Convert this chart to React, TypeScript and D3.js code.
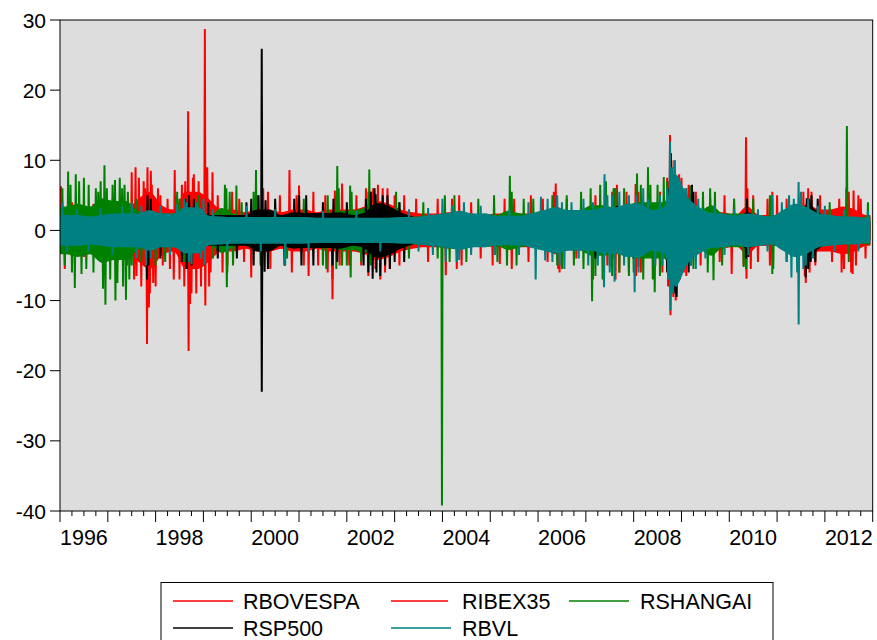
import React from "react";
import * as d3 from "d3";

// ---------- data ----------
// Quarterly dense-band amplitude of daily returns, 1996Q1 .. 2012Q4
const quarterLabels: string[] = d3.range(1996, 2013).flatMap((yr) => [1, 2, 3, 4].map((q) => `${yr}Q${q}`));

const coreRBOVESPA = [
  2.4, 2, 2, 2, 2, 2.8, 4.4, 5.5, 3.6, 3, 5.5, 5.5, 4.4, 3, 3, 2.6,
  3, 3, 2.6, 3, 3, 2.6, 3, 3, 3, 3.4, 4.2, 3.8, 3, 2.6, 2.4, 2.4,
  2.6, 2.6, 2.4, 2.2, 2.4, 2.4, 2.4, 2.4, 2.6, 3.4, 2.6, 2.6, 3, 2.6, 3.4, 3.4,
  3.8, 3, 3.8, 6.8, 4.2, 3, 2.6, 2.6, 2.2, 2.6, 2.2, 2.2, 2.2, 2.2, 3, 2.6,
  2.2, 2.2, 2.2, 2,
];
const coreRIBEX35 = [
  1.2, 1.2, 1.2, 1.4, 1.6, 2, 2.4, 2.8, 2.4, 2.4, 3.2, 3.2, 2, 2, 2, 2,
  2.4, 2.4, 2, 2.4, 2, 2, 2.8, 2.4, 2.4, 2.8, 3.6, 3.2, 2.8, 2, 1.6, 1.6,
  1.2, 1.2, 1.2, 1.2, 1.2, 1.2, 1.2, 1.2, 1.4, 1.6, 1.2, 1.2, 1.4, 1.4, 2, 2,
  2.8, 2, 2.8, 5.6, 3.2, 2.4, 2, 1.6, 2, 3.4, 2.2, 2.2, 2.2, 2.2, 3.8, 3,
  3, 3.4, 3, 2.2,
];
const coreRSHANGAI = [
  3.4, 3.8, 3.4, 4.6, 4.2, 4.2, 2.8, 2.4, 2.4, 2.4, 2.4, 2.4, 2, 3.2, 2.4, 2,
  2.4, 2.4, 2, 2, 2, 2, 2.4, 2.8, 2.8, 3.2, 2.4, 2, 2, 2, 2, 2,
  2.4, 2.4, 2, 2.4, 2.2, 2.8, 2.4, 2.2, 2, 2.8, 2.4, 2.8, 3.6, 3.6, 3.2, 3.6,
  4, 4, 4, 4.4, 3.6, 2.8, 3.6, 2.4, 2.4, 2.4, 2, 2, 2.4, 2, 2.4, 2.4,
  2, 2, 1.6, 2,
];
const coreRSP500 = [
  1.3, 1.1, 1.3, 1.5, 1.7, 1.7, 1.7, 2.5, 1.7, 1.7, 3, 2.5, 2.2, 2.2, 2.2, 2.2,
  3, 3, 2.2, 2.6, 2.5, 2.5, 2.5, 2.6, 2.2, 2.6, 3.9, 3.5, 2.6, 2, 1.3, 1.1,
  1, 1, 1, 1, 1, 1, 1, 1, 1, 1.3, 1, 0.9, 1.3, 1.3, 2.1, 2.1,
  2.5, 2.1, 3, 6.3, 3.9, 2.5, 1.7, 1.7, 1.5, 2.6, 1.8, 1.6, 1.4, 1.4, 3.6, 2.6,
  1.3, 1.3, 1.3, 1.3,
];
const coreRBVL = [
  2.2, 2.2, 2, 2.2, 2.4, 2.4, 2.4, 2.9, 2.4, 2.4, 3.3, 3.3, 2.1, 2, 1.9, 1.9,
  1.9, 1.9, 1.9, 1.9, 1.9, 1.8, 1.8, 1.8, 1.8, 1.8, 1.8, 1.8, 1.9, 1.9, 2.1, 2.3,
  2.5, 2.8, 2.4, 2.4, 2.1, 2.1, 2.1, 2.5, 2.9, 3.3, 2.9, 2.9, 2.9, 3.3, 3.3, 3.8,
  3.8, 2.9, 3.3, 8, 4.8, 3.3, 2.5, 2.4, 2.1, 2.4, 2.2, 2, 2.9, 3.8, 3.3, 2.4,
  2.2, 2, 2, 1.8,
];

// Individual large daily moves: [decimal year, return]
const spikesRBOVESPA: [number, number][] = [
  [1996.02, 6.3], [1996.1, -5.5], [1996.25, 4], [1996.5, -3.8], [1996.7, 3.8], [1996.9, -4],
  [1997.1, 4.5], [1997.2, -4.5], [1997.3, 5], [1997.4, -5], [1997.5, 8.3], [1997.55, -7],
  [1997.58, 9.0], [1997.6, -6.5], [1997.65, 7.5], [1997.7, -8], [1997.75, 7], [1997.78, 6],
  [1997.82, -16.2], [1997.83, 9], [1997.86, -11], [1997.88, -9], [1997.9, 8.5], [1997.92, 6.5],
  [1997.95, -7.5], [1998.0, -8], [1998.05, 6], [1998.1, 5], [1998.15, -5], [1998.25, 4.5],
  [1998.3, -5.5], [1998.38, -7], [1998.4, 8.6], [1998.5, -7], [1998.55, 6.5], [1998.6, -8],
  [1998.62, 7], [1998.68, 17], [1998.69, -17.2], [1998.72, -10.5], [1998.75, -9], [1998.78, 7.5],
  [1998.8, 8], [1998.85, -9], [1998.9, 7], [1998.95, -8], [1999.03, 28.7], [1999.04, -10.7],
  [1999.06, 7], [1999.08, 9], [1999.12, -8], [1999.15, -6], [1999.19, 8.3], [1999.3, 5],
  [1999.4, -6], [1999.5, -5], [1999.6, 5.5], [1999.75, 4.5], [1999.85, -4.5], [2000.0, -6.7],
  [2000.1, 5], [2000.2, -5], [2000.25, 6], [2000.35, 5.5], [2000.4, -5.5], [2000.6, 5],
  [2000.7, -5], [2000.8, 8.6], [2000.85, -6], [2000.95, 5], [2001.0, 6.4], [2001.1, -5],
  [2001.2, -6.5], [2001.3, 5.5], [2001.4, -5], [2001.55, 5], [2001.6, -6], [2001.7, -9.8],
  [2001.75, 5.7], [2001.85, -5], [2001.9, 6.7], [2002.05, -5], [2002.2, 5], [2002.3, -5],
  [2002.4, 6], [2002.45, -6.5], [2002.5, 5.5], [2002.6, -5.5], [2002.65, 6.5], [2002.7, -7],
  [2002.75, 6], [2002.8, -6], [2002.85, 6], [2002.9, -5.5], [2003.0, 5], [2003.1, -5],
  [2003.2, 5], [2003.45, 4.5], [2003.7, -4.5], [2003.9, 4.5], [2004.07, -6.4], [2004.2, 4.5],
  [2004.3, -5.5], [2004.35, 5], [2004.4, -5], [2004.6, 4], [2004.8, -4], [2005.05, -5],
  [2005.2, -4.8], [2005.3, 4.5], [2005.45, -5.5], [2005.5, 4.5], [2005.8, -4.5], [2005.85, 5],
  [2006.1, 4.5], [2006.2, -4.5], [2006.33, 5.5], [2006.37, 6.7], [2006.42, -5.5], [2006.45, -6],
  [2006.6, 4.5], [2006.8, -4], [2007.15, -7], [2007.2, 5], [2007.45, -5], [2007.55, 5.5],
  [2007.6, 6], [2007.62, -7], [2007.65, 6.5], [2007.7, -6], [2007.85, 5.5], [2007.9, -6],
  [2008.04, 6.6], [2008.05, -6.5], [2008.1, 5.5], [2008.15, -6], [2008.3, 5], [2008.45, -5],
  [2008.55, 5.5], [2008.6, -6], [2008.7, 7.5], [2008.72, -8], [2008.76, 13.6], [2008.77, -12.1],
  [2008.8, 9], [2008.82, -9], [2008.86, 10], [2008.88, -10], [2008.9, 7], [2008.95, 8],
  [2008.97, -7], [2009.0, 7.5], [2009.05, -6], [2009.1, -6.5], [2009.15, 6.5], [2009.2, 6],
  [2009.3, 5.5], [2009.4, -5], [2009.6, 4.5], [2009.8, -4.5], [2009.9, 5],
];
const spikesRIBEX35: [number, number][] = [
  [1998.7, -9], [2001.7, -7], [2002.55, 6], [2008.74, 7], [2008.76, -8], [2008.79, 10],
  [2008.83, -9.5], [2010.05, -6.2], [2010.1, 4.5], [2010.3, -5], [2010.35, 13.3], [2010.36, -6.9],
  [2010.38, 6], [2010.45, -5.5], [2010.5, 5], [2010.6, -4.5], [2010.8, 4.5], [2010.85, -5],
  [2010.9, 5.5], [2011.0, 5], [2011.2, 4.5], [2011.55, 5.5], [2011.58, -6.5], [2011.6, -7.5],
  [2011.65, 6], [2011.68, -6], [2011.72, 5.5], [2011.8, -5], [2011.9, 5], [2012.15, -4.5],
  [2012.3, 4.5], [2012.35, -6], [2012.4, -5.5], [2012.45, 6], [2012.5, 5.5], [2012.55, -6],
  [2012.58, -6.2], [2012.6, 5.7], [2012.65, -5], [2012.7, 5], [2012.75, 4.5], [2012.85, -4],
];
const spikesRSHANGAI: [number, number][] = [
  [1996.05, 6], [1996.1, -5], [1996.17, 8.4], [1996.22, 6.5], [1996.25, -6], [1996.31, -8.2],
  [1996.33, 8], [1996.4, 7], [1996.45, -6.2], [1996.5, 7.5], [1996.55, -5.5], [1996.6, 6.5],
  [1996.7, -6], [1996.75, 6], [1996.8, 5.5], [1996.85, 7], [1996.9, -8.3], [1996.93, 9.3],
  [1996.95, -10.6], [1996.98, 6], [1997.05, -7], [1997.1, 6.5], [1997.15, 7.2], [1997.16, -10],
  [1997.2, -7.5], [1997.25, 7.5], [1997.3, 6], [1997.32, -8], [1997.35, 6.5], [1997.38, -9.9],
  [1997.42, 5.5], [1997.45, -7], [1997.5, -5], [1997.6, 4.5], [1997.7, -4.5], [1997.9, 4.5],
  [1998.0, -5], [1998.2, -4.5], [1998.45, 5.5], [1998.5, 4.5], [1998.6, -4.5], [1998.9, 5],
  [1999.2, -4], [1999.45, 6.5], [1999.48, 6], [1999.49, -8.1], [1999.5, -6], [1999.55, 5.5],
  [1999.62, -5], [1999.69, 6.4], [1999.8, 4], [2000.05, 5.5], [2000.1, 8.6], [2000.15, 5],
  [2000.2, -5], [2000.5, 4], [2000.75, -4], [2001.1, 4.5], [2001.5, -5], [2001.57, -5.5],
  [2001.6, 5], [2001.78, -5.5], [2001.8, 9.2], [2001.83, 6], [2001.9, -5], [2002.0, -5],
  [2002.07, 6.4], [2002.08, -6.7], [2002.1, 5.5], [2002.3, -4.5], [2002.45, 5.5], [2002.47, 8.7],
  [2002.5, -5], [2002.6, 5], [2002.9, -4], [2003.03, 5.5], [2003.1, 4], [2003.3, -4],
  [2003.6, 4], [2003.9, -4], [2003.99, -39.2], [2004.05, 5], [2004.15, -4.5], [2004.25, 5],
  [2004.5, -4.5], [2004.75, 4.5], [2005.08, 5], [2005.15, -4.5], [2005.35, -5], [2005.41, 7.8],
  [2005.45, 5.5], [2005.55, -5], [2005.7, 4.5], [2005.9, 4.5], [2006.3, 5], [2006.4, -5],
  [2006.5, -5.5], [2006.6, 5], [2006.75, -5], [2006.9, 5.5], [2006.95, -5.5], [2007.1, 6],
  [2007.13, -10.1], [2007.2, -6.5], [2007.3, 6.5], [2007.35, -7], [2007.42, 7], [2007.5, -5],
  [2007.55, -6.5], [2007.58, 6], [2007.62, 6], [2007.7, -6], [2007.8, 6], [2007.9, -6.5],
  [2008.0, -6], [2008.07, 8.1], [2008.1, -5.2], [2008.15, 6.5], [2008.2, -7], [2008.3, 9],
  [2008.35, 6.5], [2008.4, -7], [2008.44, -8.8], [2008.5, 6.5], [2008.55, -6.5], [2008.63, 7.6],
  [2008.7, 7], [2008.8, -7], [2008.9, 7.5], [2008.95, -6], [2009.1, 6], [2009.18, 6.4],
  [2009.25, -5.5], [2009.45, 5.5], [2009.55, -6], [2009.6, 6], [2009.67, -7.1], [2009.7, 5.5],
  [2009.85, -5], [2010.1, 4.5], [2010.3, -5.2], [2010.35, -5.5], [2010.5, 4.5], [2010.85, 5],
  [2010.9, -6.2], [2010.92, -5.5], [2011.2, -4.5], [2011.5, 4], [2011.7, -4.5], [2012.1, 4],
  [2012.46, 14.9], [2012.5, -4.5], [2012.9, 4],
];
const spikesRSP500: [number, number][] = [
  [1997.82, -7], [1997.83, 5], [1997.85, -5], [1997.9, 4.5], [1998.1, -4], [1998.55, -4.5],
  [1998.62, 4.5], [1998.65, -5.5], [1998.7, 5], [1998.75, -5], [1998.8, 4.5], [1999.1, 4],
  [1999.3, -4], [1999.7, -4], [1999.9, 4], [2000.0, 4.5], [2000.05, -5], [2000.15, 5],
  [2000.22, 25.9], [2000.221, -23], [2000.28, -5.9], [2000.3, 4.3], [2000.35, -5.5], [2000.5, 4.5],
  [2000.7, -5], [2000.9, 4.5], [2001.0, 5], [2001.05, -5], [2001.15, 5], [2001.3, -5],
  [2001.5, 4], [2001.7, -5], [2001.72, 4.5], [2001.8, -4.5], [2002.0, 4], [2002.35, -5],
  [2002.4, 4.5], [2002.45, -6], [2002.5, 5.5], [2002.54, -6.9], [2002.58, 6], [2002.6, 5.2],
  [2002.62, -6], [2002.7, -6.5], [2002.75, 5], [2002.8, -5], [2002.85, 5], [2002.9, -5.5],
  [2003.0, -4.5], [2003.1, 4], [2003.2, -4.5], [2007.2, -4], [2007.6, -4], [2007.65, 3.5],
  [2007.85, 3.5], [2008.0, -4], [2008.2, 4], [2008.7, -6], [2008.72, 6], [2008.78, 11],
  [2008.82, 8], [2008.85, -7.5], [2008.87, -9], [2008.9, -9.5], [2008.92, 7], [2008.95, 6.5],
  [2009.0, -6], [2009.1, 5], [2009.15, -6], [2009.2, -5], [2009.22, 6.5], [2009.25, 5.5],
  [2010.35, -4], [2010.37, 4.5], [2010.4, -3.8], [2011.58, -5], [2011.6, -6.7], [2011.62, 4.6],
  [2011.65, -5.5], [2011.67, 4.5], [2011.7, -4.5], [2011.72, 5], [2011.8, -4.5], [2011.85, 4.5],
];
const spikesRBVL: [number, number][] = [
  [1996.05, 4], [1996.15, -3], [1996.35, 3], [1996.6, -3], [1996.85, 3.2], [1997.1, -3.5],
  [1997.3, 3.5], [1997.5, 4], [1997.6, -4], [1997.7, 3.5], [1997.8, -5], [1997.9, -4],
  [1998.1, 3.5], [1998.3, -3.5], [1998.45, 3.8], [1998.6, 4.5], [1998.65, 4], [1998.7, -4.5],
  [1998.75, -4.8], [1998.85, 4], [1998.95, -4], [1999.0, 4.5], [1999.03, -4.9], [1999.2, 3],
  [1999.5, -3], [1999.9, 3.5], [2000.2, -3], [2000.5, 3], [2000.71, -5], [2001.2, -3],
  [2001.5, 2.8], [2002.2, 2.8], [2002.7, -3], [2003.3, 3], [2003.5, -3], [2003.7, 3.2],
  [2003.8, -3.5], [2004.0, 4.5], [2004.07, -4.5], [2004.2, 3.5], [2004.3, -4.5], [2004.35, -4.2],
  [2004.45, 4], [2004.6, -3.5], [2004.8, 3.5], [2005.1, -3.5], [2005.4, 3], [2005.6, -3.5],
  [2005.8, 4], [2005.95, -7], [2006.06, 4.8], [2006.15, -4.3], [2006.2, 4.5], [2006.3, -4.5],
  [2006.4, 5], [2006.45, -5], [2006.5, 4], [2006.55, -5.5], [2006.7, 4], [2006.85, -4],
  [2006.95, 4.5], [2007.05, -5], [2007.15, 4], [2007.25, -5], [2007.38, -8.1], [2007.39, 8],
  [2007.45, 5], [2007.5, -6], [2007.55, 5], [2007.6, -7.3], [2007.7, 5.5], [2007.8, -5],
  [2007.9, 5], [2008.02, -8.8], [2008.05, 5], [2008.1, -6], [2008.2, 6], [2008.3, 4.5],
  [2008.45, -5], [2008.55, 5], [2008.6, -5], [2008.7, 6], [2008.72, -7], [2008.76, 12.6],
  [2008.77, -11.4], [2008.8, 9], [2008.82, -9], [2008.85, 10], [2008.9, -8], [2008.95, 7],
  [2009.0, -6], [2009.05, 6], [2009.1, 6], [2009.2, -5], [2009.3, -5.5], [2009.35, 4.5],
  [2009.5, -4], [2009.7, 3.5], [2009.9, -3.5], [2010.1, 3], [2010.4, -3.5], [2010.6, 3],
  [2010.8, -3], [2010.9, 5], [2011.1, 4], [2011.2, -4.5], [2011.25, 5], [2011.3, -6.7],
  [2011.35, 4.5], [2011.42, -6], [2011.45, 6.9], [2011.451, -13.4], [2011.5, 5.5], [2011.55, -5.5],
  [2011.6, -5], [2011.65, 4.5], [2011.75, -4], [2011.85, 3.5], [2012.0, 3.5], [2012.2, -3],
  [2012.4, 3], [2012.7, -3], [2012.9, 2.8],
];

const seriesNames = ["RBOVESPA", "RIBEX35", "RSHANGAI", "RSP500", "RBVL"];
const seriesColors = ["#FF0000", "#FF0000", "#008000", "#000000", "#008080"];
const coreList = [coreRBOVESPA, coreRIBEX35, coreRSHANGAI, coreRSP500, coreRBVL];
const spikeList = [spikesRBOVESPA, spikesRIBEX35, spikesRSHANGAI, spikesRSP500, spikesRBVL];

const yTickValues = [30, 20, 10, 0, -10, -20, -30, -40];
const yearLabels = [1996, 1998, 2000, 2002, 2004, 2006, 2008, 2010, 2012];
const dataStart = 1996.0;
const dataEnd = 2012.95;

// ---------- layout ----------
const W = 877;
const H = 640;
const PL = 60;
const PR = 872.7;
const PT = 20;
const PB = 511;
const FONT = "'Liberation Sans', Arial, Helvetica, sans-serif";

export default function App() {
  const x = d3.scaleLinear().domain([1996, 2013]).range([PL, PR]);
  const y = d3.scaleLinear().domain([-40, 30]).range([PB, PT]);

  const qCenter = (i: number) => 1996 + i * 0.25 + 0.125;

  const areaFor = (core: number[]) => {
    const pts = [{ t: dataStart, v: core[0] }]
      .concat(core.map((v, i) => ({ t: qCenter(i), v })))
      .concat([{ t: dataEnd, v: core[core.length - 1] }]);
    return d3
      .area<{ t: number; v: number }>()
      .x((d) => x(d.t))
      .y0((d) => y(-d.v))
      .y1((d) => y(d.v))
      .curve(d3.curveMonotoneX)(pts) as string;
  };

  const spikePath = (sp: [number, number][]) => {
    const line = d3
      .line<[number, number]>()
      .x((d) => x(d[0]))
      .y((d) => y(d[1]));
    return sp
      .map(([t, v]) => line([[t - 0.012, 0], [t, v], [t + 0.012, 0]]))
      .join(" ");
  };

  const quarterTicks = d3.range(0, 17 * 4 + 1).map((i) => 1996 + i * 0.25);

  const legendItems = [
    { name: seriesNames[0], color: seriesColors[0], x1: 173, x2: 233, tx: 243, y: 601 },
    { name: seriesNames[1], color: seriesColors[1], x1: 391, x2: 448, tx: 462, y: 601 },
    { name: seriesNames[2], color: seriesColors[2], x1: 569, x2: 629, tx: 640, y: 601 },
    { name: seriesNames[3], color: seriesColors[3], x1: 173, x2: 233, tx: 243, y: 628 },
    { name: seriesNames[4], color: seriesColors[4], x1: 391, x2: 451, tx: 462, y: 628 },
  ];

  return (
    <svg
      width={W}
      height={H}
      style={{ position: "absolute", left: 0, top: 0, background: "#fff" }}
      fontFamily={FONT}
    >
      <defs>
        <clipPath id="plotclip">
          <rect x={PL} y={PT} width={PR - PL} height={PB - PT} />
        </clipPath>
      </defs>
      <rect x={PL} y={PT} width={PR - PL} height={PB - PT} fill="#DDDDDD" />
      <g clipPath="url(#plotclip)">
        {coreList.map((core, k) => (
          <g key={seriesNames[k]}>
            <path d={areaFor(core)} fill={seriesColors[k]} stroke="none" />
            <path
              d={spikePath(spikeList[k])}
              fill={seriesColors[k]}
              stroke={seriesColors[k]}
              strokeWidth={2}
              strokeLinejoin="miter"
            />
          </g>
        ))}
      </g>
      <rect x={PL} y={PT} width={PR - PL} height={PB - PT} fill="none" stroke="#000" strokeWidth={1} />

      {/* y axis */}
      {yTickValues.map((v) => (
        <g key={v}>
          <line x1={50} x2={PL} y1={y(v)} y2={y(v)} stroke="#000" strokeWidth={1} />
          <text x={46} y={y(v) + 7.5} textAnchor="end" fontSize={21} fill="#000">
            {v}
          </text>
        </g>
      ))}

      {/* x axis */}
      {quarterTicks.map((t, i) => (
        <line
          key={i}
          x1={x(t)}
          x2={x(t)}
          y1={PB}
          y2={PB + (i % 4 === 0 ? 11 : 5)}
          stroke="#000"
          strokeWidth={1}
        />
      ))}
      {yearLabels.map((yr) => (
        <text key={yr} x={x(yr + 0.5)} y={545} textAnchor="middle" fontSize={21.5} fill="#000">
          {yr}
        </text>
      ))}

      {/* legend */}
      <rect x={161} y={582.5} width={612} height={70} fill="#fff" stroke="#000" strokeWidth={1} />
      {legendItems.map((it) => (
        <g key={it.name}>
          <line x1={it.x1} x2={it.x2} y1={it.y} y2={it.y} stroke={it.color} strokeWidth={1.5} />
          <text x={it.tx} y={it.y + 7.5} fontSize={21.5} fill="#000">
            {it.name}
          </text>
        </g>
      ))}
    </svg>
  );
}
